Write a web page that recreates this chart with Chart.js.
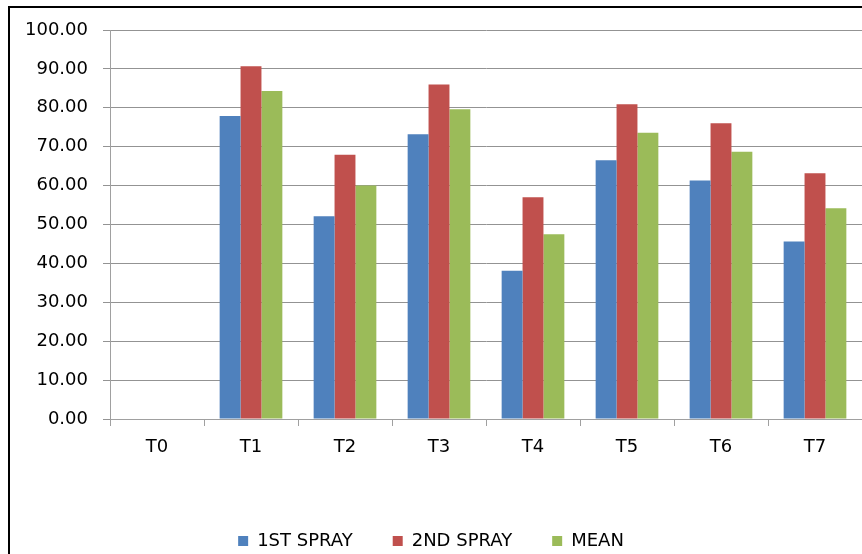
<!DOCTYPE html>
<html>
<head>
<meta charset="utf-8">
<script src="https://cdn.jsdelivr.net/npm/chart.js@4.4.1/dist/chart.umd.min.js"></script>
<style>
    html, body { margin: 0; padding: 0; background: #fff; overflow: hidden; }
    #wrap { position: relative; width: 862px; height: 554px; }
    #frame {
        position: absolute; left: 8px; top: 6px; width: 1000px; height: 1000px;
        border-left: 2px solid #000; border-top: 2px solid #000;
        pointer-events: none;
    }
</style>
</head>
<body>
<div id="wrap">
    <canvas id="chart" width="862" height="554"></canvas>
    <div id="frame"></div>
</div>
<script>
const categories = ["T0", "T1", "T2", "T3", "T4", "T5", "T6", "T7"];
const firstSpray = [0, 77.9, 52.1, 73.2, 38.1, 66.5, 61.3, 45.6];
const secondSpray = [0, 90.7, 67.9, 86.0, 57.0, 80.9, 76.0, 63.2];
const meanValues = [0, 84.3, 60.0, 79.6, 47.5, 73.6, 68.7, 54.2];

const font = { family: "DejaVu Sans", size: 18 };

new Chart(document.getElementById("chart"), {
    type: "bar",
    data: {
        labels: categories,
        datasets: [
            { label: "1ST SPRAY", data: firstSpray, backgroundColor: "#4F81BD" },
            { label: "2ND SPRAY", data: secondSpray, backgroundColor: "#C0504D" },
            { label: "MEAN", data: meanValues, backgroundColor: "#9BBB59" }
        ]
    },
    options: {
        responsive: false,
        animation: false,
        layout: { padding: { top: 30, left: 0, right: 0, bottom: -6 } },
        datasets: { bar: { categoryPercentage: 0.667, barPercentage: 1 } },
        plugins: {
            tooltip: { enabled: false },
            legend: {
                position: "bottom",
                labels: {
                    color: "#000",
                    font: font,
                    boxWidth: 10,
                    boxHeight: 10,
                    padding: 40
                }
            }
        },
        scales: {
            x: {
                grid: {
                    offset: true,
                    drawOnChartArea: false,
                    drawTicks: true,
                    tickLength: 7,
                    color: "#a0a0a0"
                },
                border: { color: "#a0a0a0", width: 1 },
                ticks: { color: "#000", font: font, padding: 11 },
                afterFit: s => { s.height = 73; }
            },
            y: {
                min: 0,
                max: 100,
                ticks: {
                    stepSize: 10,
                    color: "#000",
                    font: font,
                    padding: 15,
                    callback: v => v.toFixed(2)
                },
                grid: { color: "#939393", tickLength: 7 },
                border: { color: "#a0a0a0", width: 1 },
                afterFit: s => { s.width = 110; }
            }
        }
    }
});
</script>
</body>
</html>
